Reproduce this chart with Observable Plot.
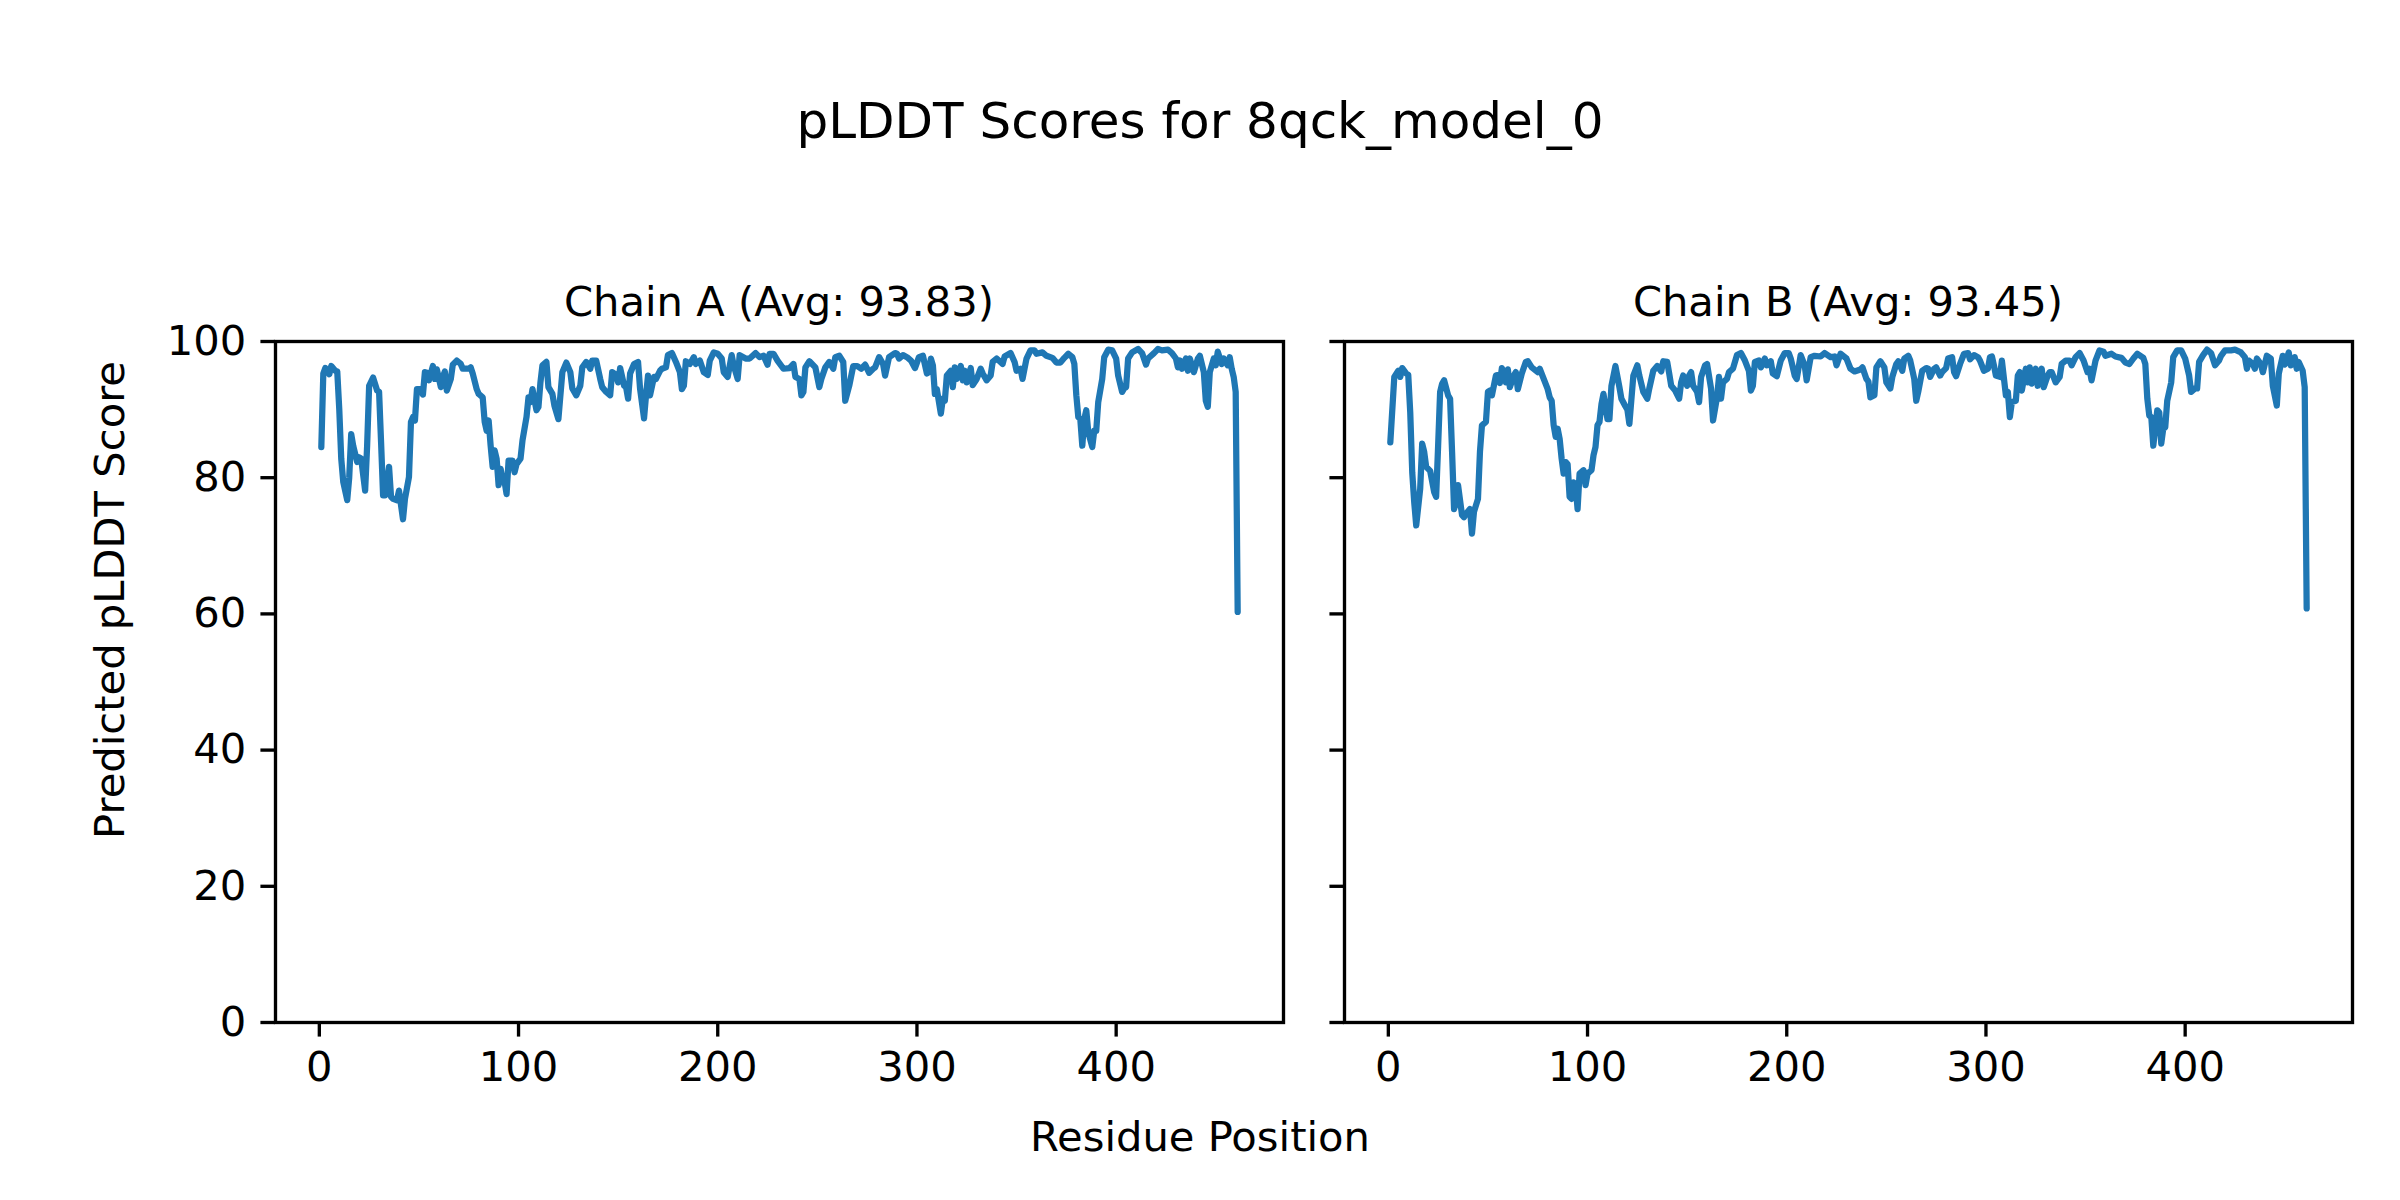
<!DOCTYPE html>
<html><head><meta charset="utf-8">
<script src="https://cdn.jsdelivr.net/npm/d3@7"></script>
<script src="https://cdn.jsdelivr.net/npm/@observablehq/plot@0.6"></script>
<style>
html,body{margin:0;padding:0;background:#fff;}
#fig{position:relative;width:2400px;height:1200px;background:#fff;font-family:"DejaVu Sans",sans-serif;overflow:hidden;}
#fig > *{position:absolute;}
</style></head><body><div id="fig"></div>
<script>
const figTitle = "pLDDT Scores for 8qck_model_0";
const xLabel = "Residue Position";
const yLabel = "Predicted pLDDT Score";
const chains = ["A", "B"];
const chainAvg = [93.83, 93.45];
const xTicks = [0, 100, 200, 300, 400];
const yTicks = [0, 20, 40, 60, 80, 100];

const residuesA = [1,2,3,5,6,8,9,10,11,12,14,15,16,17,19,20,21,23,24,25,27,29,30,31,32,33,35,36,37,39,40,42,43,45,46,47,48,49,51,52,53,54,55,57,58,59,61,62,63,64,66,67,69,71,72,75,76,77,79,80,82,83,84,85,86,87,88,89,90,91,92,93,94,95,97,98,99,101,102,104,105,106,107,109,110,111,112,114,115,117,118,120,122,124,126,127,129,131,132,134,136,137,139,141,142,144,146,147,149,150,151,153,154,155,156,158,160,161,163,164,165,166,168,169,171,172,174,175,177,179,181,182,183,184,186,188,189,191,193,195,196,198,200,202,203,205,207,208,210,211,214,216,219,221,223,225,226,228,230,233,236,238,239,241,242,243,244,246,249,251,252,254,256,258,259,261,263,264,266,268,270,272,274,276,278,279,281,283,284,286,289,290,291,293,295,297,299,301,303,305,306,307,308,309,310,312,313,314,315,317,318,319,320,322,323,324,325,327,328,330,332,333,335,337,338,340,343,344,347,349,350,352,353,355,357,359,360,363,365,368,370,372,374,376,378,379,380,381,382,383,384,385,386,388,389,390,391,393,394,396,398,400,401,403,404,405,406,408,411,413,415,416,419,421,423,426,428,430,431,432,433,435,436,437,439,441,442,444,445,446,447,449,450,451,453,454,456,457,458,459,460,461];
const plddtA = [84.5,95.3,96.1,95.2,96.4,95.7,95.6,90.1,82.8,79.4,76.7,80.0,86.4,84.7,82.3,83.0,82.8,78.1,84.7,93.5,94.7,92.8,92.6,85.2,77.4,77.4,81.6,77.2,76.9,76.7,78.1,73.9,76.9,80.1,88.2,88.9,88.4,93.0,93.0,92.2,95.5,95.4,94.3,96.4,94.5,95.9,93.3,94.8,95.6,92.8,94.5,96.6,97.2,96.7,96.0,96.0,96.2,95.3,93.0,92.3,91.8,88.2,86.9,88.4,84.7,81.6,84.0,82.8,78.9,81.3,79.8,79.4,77.6,82.5,82.5,80.8,82.0,82.8,85.5,88.9,91.8,91.1,93.0,89.9,90.4,94.0,96.5,97.0,93.3,92.3,90.6,88.6,95.5,96.9,95.5,93.1,92.1,93.5,96.2,97.0,96.0,97.2,97.2,94.5,93.3,92.6,92.1,95.5,95.1,94.0,96.1,93.5,93.3,91.6,95.3,96.7,97.0,93.1,88.7,92.1,95.0,92.1,94.8,94.5,95.7,96.0,96.2,98.0,98.3,97.0,95.5,93.0,93.5,97.1,96.7,97.7,96.7,97.2,95.5,95.1,97.2,98.4,98.2,97.5,95.5,94.8,98.0,96.5,94.5,98.0,97.5,97.5,98.3,97.7,97.9,96.6,98.2,98.2,97.2,96.0,96.1,96.7,94.8,94.5,92.1,92.6,96.2,97.1,96.2,93.3,94.5,96.2,97.0,96.0,97.7,97.9,97.0,91.3,93.5,96.4,96.4,96.0,96.6,95.4,96.0,96.2,97.7,96.7,95.0,97.7,98.3,98.2,97.5,98.0,97.7,97.2,96.1,97.7,97.9,95.3,95.5,97.5,96.5,92.3,93.0,89.4,91.6,91.3,95.0,95.7,93.3,96.2,94.5,96.4,94.3,95.7,94.0,96.1,93.6,94.5,96.0,95.3,94.3,95.0,97.0,97.5,96.7,97.8,98.3,97.0,95.7,96.0,94.5,97.5,98.7,98.7,98.2,98.4,97.9,97.6,96.9,96.9,97.6,98.2,97.7,96.7,92.1,88.9,88.6,84.7,88.6,89.9,86.7,84.5,86.9,86.9,91.1,94.5,97.7,98.8,98.7,97.5,95.0,92.6,93.1,93.3,97.5,98.4,98.9,98.3,96.6,97.5,98.3,98.9,98.7,98.8,98.3,97.5,96.2,97.2,96.0,97.5,95.7,97.5,95.5,97.5,97.9,95.5,91.3,90.4,95.5,97.5,96.5,98.5,96.7,97.5,96.5,97.7,96.0,94.8,92.6,60.3];

const residuesB = [1,3,5,6,7,9,10,11,12,13,14,16,17,18,19,20,21,23,24,25,26,27,28,30,31,32,33,34,35,37,38,39,41,42,43,45,46,47,49,50,51,52,54,55,56,57,59,60,61,63,64,65,67,69,70,72,75,76,78,80,81,82,83,84,85,86,87,88,89,90,91,92,93,94,95,96,98,99,100,102,103,104,105,106,107,108,110,111,112,114,116,117,119,120,121,123,125,126,128,130,131,133,135,137,138,140,141,142,144,146,147,148,150,151,152,153,155,156,157,159,160,162,163,165,166,167,168,170,171,173,175,177,179,181,182,183,184,186,187,189,190,192,193,195,197,199,201,202,204,205,207,209,210,212,214,217,219,222,224,225,227,230,232,234,237,238,240,241,242,244,245,247,249,250,252,253,255,256,258,259,261,262,264,265,266,268,270,271,272,274,275,277,278,280,281,283,284,285,287,289,291,292,294,296,297,299,301,302,303,304,305,307,308,310,311,312,313,315,316,317,318,320,321,322,323,325,326,328,329,331,332,333,335,337,338,340,342,343,345,347,349,351,352,353,355,357,359,360,363,365,368,370,372,374,376,379,380,381,382,383,384,386,387,388,389,390,391,393,394,396,398,400,402,403,405,406,407,409,411,413,415,417,418,420,423,425,428,430,431,432,434,435,436,438,439,441,443,444,446,447,449,450,452,453,455,456,457,459,460,461];
const plddtB = [85.2,94.8,95.7,94.8,96.1,95.3,95.1,89.6,80.8,76.4,73.0,78.4,85.0,83.8,81.6,81.3,81.0,77.9,77.2,84.7,92.6,93.8,94.3,92.1,91.6,83.8,75.4,76.4,78.9,74.5,74.2,74.7,75.4,71.8,75.0,76.9,83.8,87.7,88.2,92.6,92.8,92.1,95.0,95.1,93.9,96.1,94.0,95.9,93.3,95.0,95.5,93.0,95.3,97.0,97.1,96.2,95.5,96.0,94.5,93.0,91.8,91.3,87.7,86.0,87.2,85.7,82.8,80.6,82.3,82.0,77.2,76.9,79.3,78.9,75.4,80.6,81.1,78.9,80.6,81.1,83.3,84.5,87.7,88.2,90.8,92.3,88.6,88.6,93.5,96.4,93.3,91.6,90.5,90.0,87.9,95.0,96.5,95.0,92.6,91.6,93.1,95.7,96.4,95.6,97.1,97.0,95.3,93.5,92.8,91.6,94.0,95.0,93.5,95.0,95.5,93.5,92.6,91.1,94.8,96.5,96.7,93.1,88.4,91.8,94.8,91.6,94.0,94.5,95.5,96.0,98.0,98.3,97.2,95.7,92.8,93.5,97.0,97.2,96.2,97.5,96.5,97.1,95.3,94.9,97.2,98.3,98.3,97.5,95.0,94.5,98.0,96.5,94.3,97.7,97.9,97.8,98.3,97.7,97.8,96.5,98.2,97.5,96.0,95.6,95.9,96.2,94.5,94.1,91.8,92.1,96.2,97.1,96.2,94.0,93.1,94.8,96.7,97.1,95.7,97.5,97.9,97.2,94.5,91.3,92.6,95.7,96.1,96.0,94.8,96.0,96.2,95.0,95.5,96.1,97.5,97.7,95.5,94.9,96.7,98.2,98.3,97.4,98.0,97.7,97.2,95.7,96.0,97.7,97.8,96.5,95.0,94.8,97.2,92.1,92.6,88.9,91.1,91.3,95.0,95.5,92.8,96.0,94.0,96.2,93.8,96.0,93.5,96.0,93.3,95.0,95.5,95.5,94.0,94.8,96.7,97.2,97.2,96.5,97.7,98.3,97.2,95.5,96.0,94.3,97.2,98.7,98.5,97.9,98.2,97.8,97.6,96.9,96.7,97.5,98.2,97.6,96.7,91.6,89.1,88.9,84.7,89.9,89.6,85.0,87.2,87.4,91.3,94.0,97.7,98.7,98.7,97.5,95.0,92.6,93.1,93.1,97.0,98.0,98.8,98.3,96.5,97.2,97.9,98.7,98.7,98.8,98.4,97.7,96.0,97.2,96.7,96.0,97.5,96.7,95.5,97.9,97.5,93.5,90.6,95.3,97.9,96.6,98.4,96.5,97.7,96.0,97.0,95.7,93.3,60.8];

const series = [[residuesA, plddtA], [residuesB, plddtB]];

// layout (pixels); 300 dpi figure
const W = 1008, H = 681;
const ML = 130, MR = 20, MT = 20, MB = 110;
const panelLeft = [275, 1344];
const panelTop = 341;
const PT = 300 / 72; // px per point

function panel(res, vals, showLabels) {
  const data = res.map((r, i) => ({r, v: vals[i]}));
  const lo = d3.min(res), hi = d3.max(res), pad = (hi - lo) * 0.05;
  return Plot.plot({
    width: W + ML + MR, height: H + MT + MB,
    marginLeft: ML, marginRight: MR, marginTop: MT, marginBottom: MB,
    style: {fontFamily: "DejaVu Sans", fontSize: (10 * PT) + "px", color: "#000", background: "transparent", overflow: "visible"},
    x: {domain: [lo - pad, hi + pad]},
    y: {domain: [0, 100]},
    marks: [
      Plot.axisX({ticks: xTicks, tickSize: 3.5 * PT, tickPadding: 3.5 * PT, strokeWidth: 0.8 * PT, label: null, fontSize: 10 * PT, tickFormat: d => String(d)}),
      Plot.axisY({ticks: yTicks, tickSize: 3.5 * PT, tickPadding: 3.5 * PT, strokeWidth: 0.8 * PT, label: null, fontSize: 10 * PT, tickFormat: showLabels ? (d => String(d)) : (() => "")}),
      Plot.line(data, {x: "r", y: "v", stroke: "#1f77b4", strokeWidth: 1.5 * PT}),
      Plot.frame({stroke: "#000", strokeWidth: 0.8 * PT})
    ]
  });
}

const fig = document.getElementById("fig");
series.forEach(([res, vals], i) => {
  const p = panel(res, vals, i === 0);
  p.style.position = "absolute";
  p.style.left = (panelLeft[i] - ML) + "px";
  p.style.top = (panelTop - MT) + "px";
  fig.appendChild(p);
});

// figure-level texts
const ns = "http://www.w3.org/2000/svg";
const overlay = document.createElementNS(ns, "svg");
overlay.setAttribute("width", 2400);
overlay.setAttribute("height", 1200);
overlay.style.position = "absolute";
overlay.style.left = "0px";
overlay.style.top = "0px";
overlay.style.pointerEvents = "none";
function addText(str, x, y, size, rotate) {
  const t = document.createElementNS(ns, "text");
  t.textContent = str;
  t.setAttribute("x", x);
  t.setAttribute("y", y);
  t.setAttribute("text-anchor", "middle");
  t.setAttribute("font-family", "DejaVu Sans");
  t.setAttribute("font-size", size);
  t.setAttribute("fill", "#000");
  if (rotate) t.setAttribute("transform", `rotate(${rotate} ${x} ${y})`);
  overlay.appendChild(t);
}
addText(figTitle, 1200, 138, 12 * PT);
chains.forEach((c, i) => {
  addText(`Chain ${c} (Avg: ${chainAvg[i].toFixed(2)})`, panelLeft[i] + W / 2, 316, 10 * PT);
});
addText(xLabel, 1200, 1151, 10 * PT);
addText(yLabel, 124, 600, 10 * PT, -90);
fig.appendChild(overlay);
</script>
</body></html>
